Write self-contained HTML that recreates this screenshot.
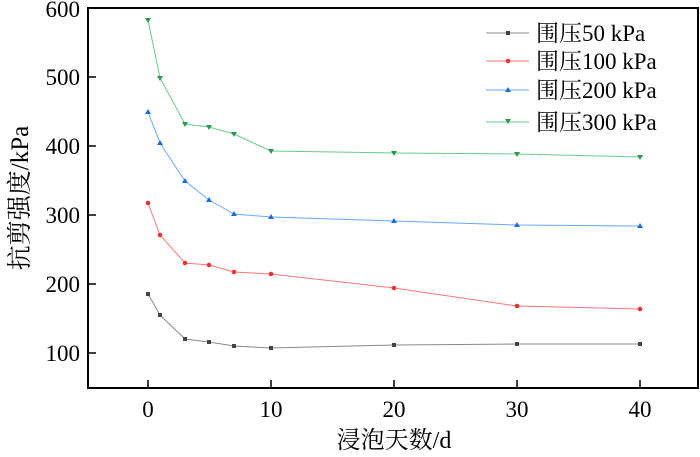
<!DOCTYPE html>
<html><head><meta charset="utf-8"><style>body{margin:0;background:#fff}</style></head><body>
<svg width="700" height="452" xmlns="http://www.w3.org/2000/svg" font-family="'Liberation Serif','Noto Serif CJK SC',serif">
<rect x="88" y="8" width="610" height="380" fill="none" stroke="#000" stroke-width="2"/>
<g stroke="#000" stroke-width="1.5">
<line x1="88" y1="77" x2="96" y2="77"/><line x1="88" y1="146" x2="96" y2="146"/><line x1="88" y1="215" x2="96" y2="215"/><line x1="88" y1="284" x2="96" y2="284"/><line x1="88" y1="353" x2="96" y2="353"/>
<line x1="148" y1="388" x2="148" y2="380"/><line x1="271" y1="388" x2="271" y2="380"/><line x1="394" y1="388" x2="394" y2="380"/><line x1="517" y1="388" x2="517" y2="380"/><line x1="640" y1="388" x2="640" y2="380"/>
</g>
<g font-size="23" text-anchor="end" fill="#000">
<text x="80" y="17">600</text><text x="80" y="85">500</text><text x="80" y="154">400</text><text x="80" y="223">300</text><text x="80" y="292">200</text><text x="80" y="361">100</text>
</g>
<g font-size="23" text-anchor="middle">
<text x="148" y="417">0</text><text x="271" y="417">10</text><text x="394" y="417">20</text><text x="517" y="417">30</text><text x="640" y="417">40</text>
</g>
<text x="394" y="448" font-size="24" text-anchor="middle">浸泡天数/d</text>
<text transform="translate(28,198) rotate(-90)" font-size="25" text-anchor="middle">抗剪强度/kPa</text>
<g fill="none" stroke-width="1">
<polyline stroke="#888" points="148,294 160,315 185,339 209,342 234,346 271,348 394,345 517,344 640,344"/>
<polyline stroke="#f77" points="148,203 160,235 185,263 209,265 234,272 271,274 394,288 517,306 640,309"/>
<polyline stroke="#6af" points="148,112 160,143 185,181 209,200 234,214 271,217 394,221 517,225 640,226"/>
<polyline stroke="#6c8" points="148,20 160,78 185,124 209,127 234,134 271,151 394,153 517,154 640,157"/>
</g>
<g fill="#444"><rect x="146" y="292" width="4" height="4"/><rect x="158" y="313" width="4" height="4"/><rect x="183" y="337" width="4" height="4"/><rect x="207" y="340" width="4" height="4"/><rect x="232" y="344" width="4" height="4"/><rect x="269" y="346" width="4" height="4"/><rect x="392" y="343" width="4" height="4"/><rect x="515" y="342" width="4" height="4"/><rect x="638" y="342" width="4" height="4"/></g>
<g fill="#e33"><circle cx="148" cy="203" r="2.3"/><circle cx="160" cy="235" r="2.3"/><circle cx="185" cy="263" r="2.3"/><circle cx="209" cy="265" r="2.3"/><circle cx="234" cy="272" r="2.3"/><circle cx="271" cy="274" r="2.3"/><circle cx="394" cy="288" r="2.3"/><circle cx="517" cy="306" r="2.3"/><circle cx="640" cy="309" r="2.3"/></g>
<g fill="#1a6fe0">
<path d="M148,109l3,5h-6z"/><path d="M160,140l3,5h-6z"/><path d="M185,178l3,5h-6z"/><path d="M209,197l3,5h-6z"/><path d="M234,211l3,5h-6z"/><path d="M271,214l3,5h-6z"/><path d="M394,218l3,5h-6z"/><path d="M517,222l3,5h-6z"/><path d="M640,223l3,5h-6z"/></g>
<g fill="#2a9a50">
<path d="M148,23l3,-5h-6z"/><path d="M160,81l3,-5h-6z"/><path d="M185,127l3,-5h-6z"/><path d="M209,130l3,-5h-6z"/><path d="M234,137l3,-5h-6z"/><path d="M271,154l3,-5h-6z"/><path d="M394,156l3,-5h-6z"/><path d="M517,157l3,-5h-6z"/><path d="M640,160l3,-5h-6z"/></g>
<g stroke-width="1">
<line x1="486" y1="33" x2="529" y2="33" stroke="#888"/><line x1="486" y1="61" x2="529" y2="61" stroke="#f77"/><line x1="486" y1="90" x2="529" y2="90" stroke="#6af"/><line x1="486" y1="122" x2="529" y2="122" stroke="#6c8"/>
</g>
<rect x="506" y="31" width="4" height="4" fill="#444"/><circle cx="508" cy="61" r="2.3" fill="#e33"/><path d="M508,87l3,5h-6z" fill="#1a6fe0"/><path d="M508,124l3,-5h-6z" fill="#2a9a50"/>
<g font-size="23">
<text x="536" y="41">围压50 kPa</text><text x="536" y="69">围压100 kPa</text><text x="536" y="98">围压200 kPa</text><text x="536" y="130">围压300 kPa</text>
</g>
</svg>
</body></html>
